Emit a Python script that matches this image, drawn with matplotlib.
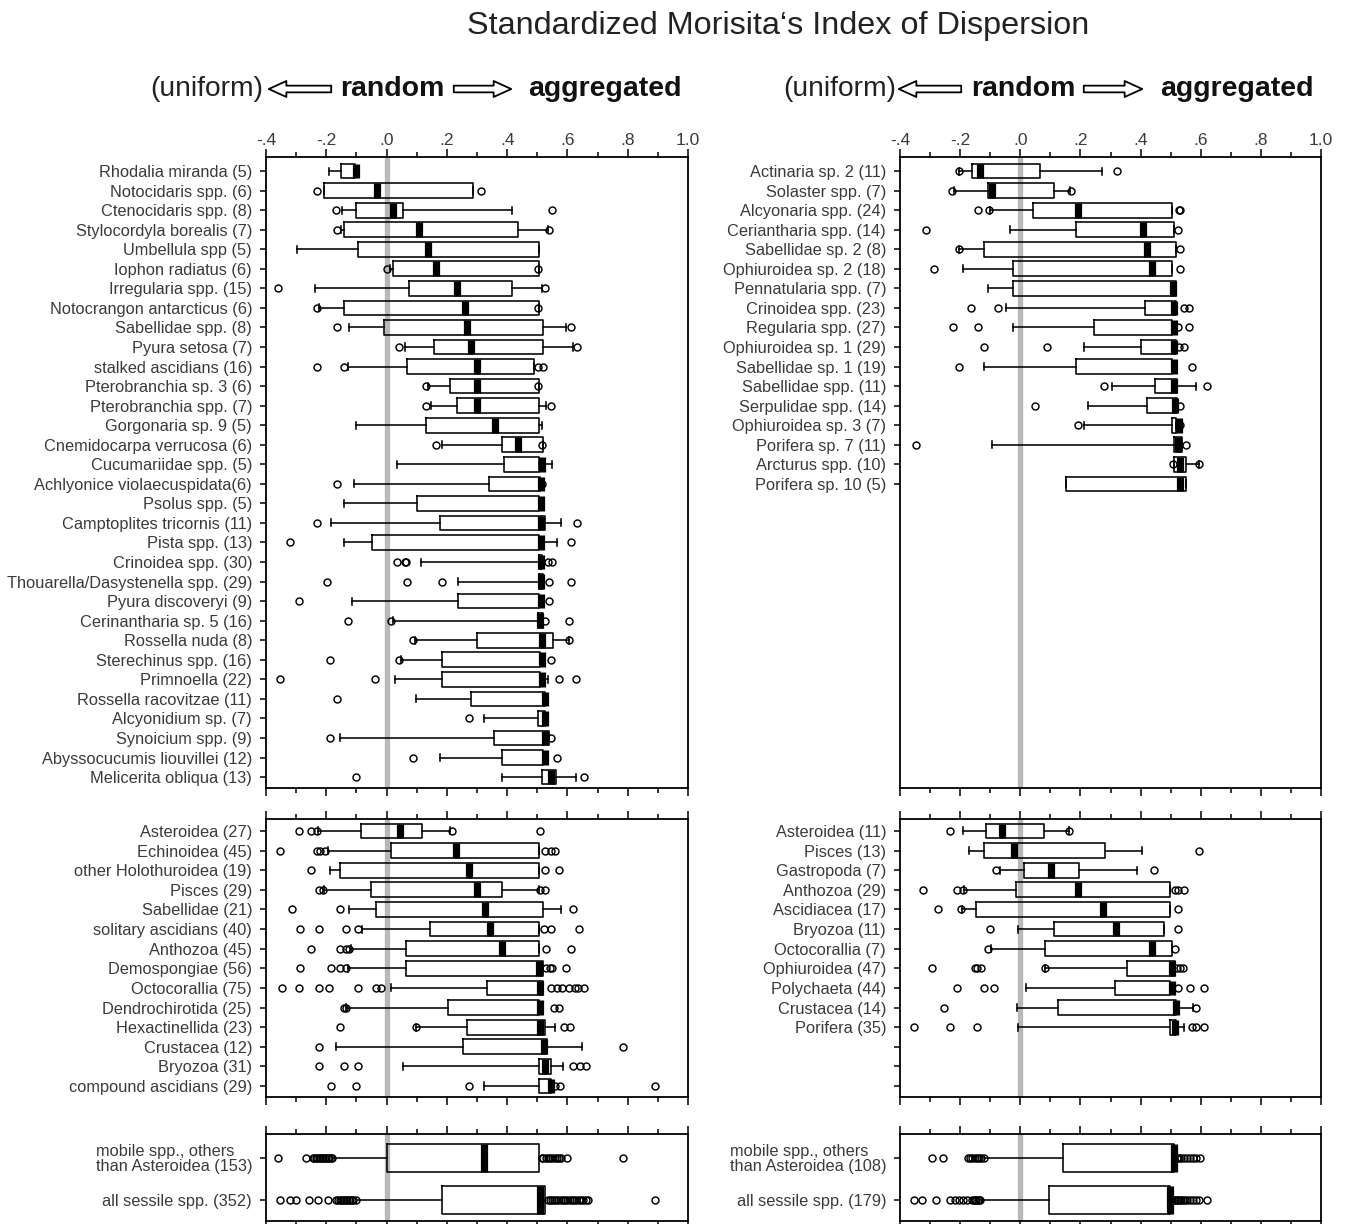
import matplotlib
matplotlib.use('Agg')
import matplotlib.pyplot as plt
from matplotlib.patches import FancyArrowPatch, ArrowStyle
from matplotlib.ticker import MultipleLocator, FixedLocator, FixedFormatter

plt.rcParams['font.family'] = ['Liberation Sans', 'DejaVu Sans']

# ---------------- data ----------------
xtick_values = [-0.4, -0.2, 0.0, 0.2, 0.4, 0.6, 0.8, 1.0]
xtick_labels = ['-.4', '-.2', '.0', '.2', '.4', '.6', '.8', '1.0']

# Left, top panel (species)
LT_names = ['Rhodalia miranda (5)', 'Notocidaris spp. (6)', 'Ctenocidaris spp. (8)',
            'Stylocordyla borealis (7)', 'Umbellula spp (5)', 'Iophon radiatus (6)',
            'Irregularia spp. (15)', 'Notocrangon antarcticus (6)', 'Sabellidae spp. (8)',
            'Pyura setosa (7)', 'stalked ascidians (16)', 'Pterobranchia sp. 3 (6)',
            'Pterobranchia spp. (7)', 'Gorgonaria sp. 9 (5)', 'Cnemidocarpa verrucosa (6)',
            'Cucumariidae spp. (5)', 'Achlyonice violaecuspidata(6)', 'Psolus spp. (5)',
            'Camptoplites tricornis (11)', 'Pista spp. (13)', 'Crinoidea spp. (30)',
            'Thouarella/Dasystenella spp. (29)', 'Pyura discoveryi (9)', 'Cerinantharia sp. 5 (16)',
            'Rossella nuda (8)', 'Sterechinus spp. (16)', 'Primnoella (22)',
            'Rossella racovitzae (11)', 'Alcyonidium sp. (7)', 'Synoicium spp. (9)',
            'Abyssocucumis liouvillei (12)', 'Melicerita obliqua (13)']
LT_q1 = [-0.151, -0.208, -0.101, -0.142, -0.094, 0.021, 0.076, -0.142, -0.007, 0.157,
         0.069, 0.212, 0.233, 0.130, 0.383, 0.389, 0.340, 0.102, 0.178, -0.048,
         0.505, 0.505, 0.238, 0.502, 0.299, 0.184, 0.184, 0.280, 0.503, 0.355, 0.383, 0.517]
LT_med = [-0.100, -0.033, 0.021, 0.109, 0.137, 0.165, 0.233, 0.259, 0.266, 0.280,
          0.299, 0.299, 0.299, 0.361, 0.436, 0.514, 0.512, 0.512, 0.512, 0.512,
          0.512, 0.512, 0.512, 0.510, 0.517, 0.517, 0.517, 0.525, 0.525, 0.525, 0.525, 0.544]
LT_q3 = [-0.106, 0.287, 0.054, 0.437, 0.506, 0.506, 0.417, 0.506, 0.519, 0.519,
         0.489, 0.506, 0.506, 0.506, 0.519, 0.506, 0.508, 0.506, 0.525, 0.506,
         0.515, 0.518, 0.506, 0.518, 0.553, 0.508, 0.508, 0.525, 0.525, 0.539, 0.519, 0.561]
LT_wlo = [-0.190, -0.208, -0.148, -0.150, -0.298, 0.010, -0.236, -0.225, -0.123, 0.062,
          -0.128, 0.139, 0.148, -0.101, 0.184, 0.034, -0.109, -0.142, -0.184, -0.142,
          0.115, 0.238, -0.114, 0.021, 0.094, 0.049, 0.027, 0.096, 0.322, -0.156, 0.178, 0.383]
LT_whi = [-0.106, 0.287, 0.417, 0.535, 0.506, 0.506, 0.515, 0.506, 0.595, 0.619,
          0.489, 0.506, 0.530, 0.517, 0.519, 0.550, 0.508, 0.506, 0.580, 0.566,
          0.515, 0.518, 0.506, 0.518, 0.606, 0.508, 0.536, 0.525, 0.525, 0.539, 0.519, 0.630]
LT_fliers = [
    [], [-0.231, 0.314], [-0.169, 0.550], [-0.164, 0.539], [], [0.0, 0.504],
    [-0.360, 0.525], [-0.231, 0.504], [-0.164, 0.611], [0.041, 0.633],
    [-0.231, -0.142, 0.503, 0.519], [0.130, 0.504], [0.130, 0.545], [],
    [0.165, 0.517], [], [-0.164, 0.514], [], [-0.231, 0.633], [-0.319, 0.611],
    [0.034, 0.060, 0.065, 0.536, 0.550], [-0.197, 0.069, 0.184, 0.539, 0.611],
    [-0.292, 0.539], [-0.128, 0.016, 0.525, 0.606], [0.089, 0.606],
    [-0.189, 0.041, 0.547], [-0.353, -0.040, 0.573, 0.628], [-0.164], [0.272],
    [-0.189, 0.547], [0.089, 0.566], [-0.101, 0.654]]

# Left, middle panel (groups)
LM_names = ['Asteroidea (27)', 'Echinoidea (45)', 'other Holothuroidea (19)', 'Pisces (29)',
            'Sabellidae (21)', 'solitary ascidians (40)', 'Anthozoa (45)', 'Demospongiae (56)',
            'Octocorallia (75)', 'Dendrochirotida (25)', 'Hexactinellida (23)', 'Crustacea (12)',
            'Bryozoa (31)', 'compound ascidians (29)']
LM_q1 = [-0.086, 0.016, -0.156, -0.053, -0.034, 0.145, 0.063, 0.063, 0.334, 0.204, 0.268, 0.254, 0.506, 0.506]
LM_med = [0.043, 0.231, 0.272, 0.300, 0.327, 0.342, 0.382, 0.506, 0.510, 0.510, 0.510, 0.522, 0.525, 0.544]
LM_q3 = [0.118, 0.506, 0.506, 0.384, 0.519, 0.506, 0.506, 0.519, 0.519, 0.506, 0.525, 0.533, 0.545, 0.545]
LM_wlo = [-0.228, -0.195, -0.189, -0.206, -0.123, -0.081, -0.118, -0.129, 0.016, -0.134, 0.098, -0.169, 0.054, 0.322]
LM_whi = [0.209, 0.506, 0.506, 0.506, 0.580, 0.506, 0.506, 0.519, 0.519, 0.506, 0.558, 0.647, 0.584, 0.545]
LM_fliers = [
    [-0.292, -0.252, -0.231, 0.218, 0.510],
    [-0.353, -0.231, -0.220, -0.203, 0.525, 0.544, 0.558],
    [-0.252, 0.525, 0.573],
    [-0.225, -0.212, 0.510, 0.525],
    [-0.313, -0.156, 0.619],
    [-0.286, -0.225, -0.136, -0.095, 0.523, 0.544, 0.639],
    [-0.252, -0.156, -0.136, -0.125, 0.528, 0.611],
    [-0.286, -0.184, -0.156, -0.136, 0.528, 0.542, 0.550, 0.594],
    [-0.348, -0.292, -0.225, -0.192, -0.095, -0.034, -0.018,
     0.544, 0.564, 0.582, 0.606, 0.625, 0.636, 0.654],
    [-0.142, -0.136, 0.555, 0.573],
    [-0.156, 0.096, 0.589, 0.610],
    [-0.225, 0.783],
    [-0.225, -0.142, -0.095, 0.619, 0.641, 0.661],
    [-0.184, -0.101, 0.272, 0.558, 0.575, 0.890]]

# Left, bottom panel (summary)
LB_names = ['mobile spp., others\nthan Asteroidea (153)', 'all sessile spp. (352)']
LB_q1 = [0.000, 0.185]
LB_med = [0.322, 0.510]
LB_q3 = [0.506, 0.525]
LB_wlo = [-0.178, -0.095]
LB_whi = [0.506, 0.525]
LB_fliers = [
    [-0.359, -0.267, -0.245, -0.240, -0.235, -0.230, -0.225, -0.220, -0.215, -0.210,
     -0.205, -0.200, -0.195, -0.190, -0.185, -0.180,
     0.514, 0.520, 0.528, 0.535, 0.542, 0.550, 0.558, 0.565, 0.572, 0.580, 0.599, 0.783],
    [-0.355, -0.322, -0.300, -0.256, -0.228, -0.195, -0.167, -0.160, -0.155, -0.150,
     -0.145, -0.140, -0.135, -0.130, -0.125, -0.120, -0.115, -0.110, -0.101,
     0.536, 0.542, 0.548, 0.555, 0.562, 0.570, 0.578, 0.585, 0.592, 0.600, 0.608,
     0.615, 0.622, 0.630, 0.638, 0.645, 0.652, 0.660, 0.669, 0.890]]

# Right, top panel (species)
RT_names = ['Actinaria sp. 2 (11)', 'Solaster spp. (7)', 'Alcyonaria spp. (24)',
            'Ceriantharia spp. (14)', 'Sabellidae sp. 2 (8)', 'Ophiuroidea sp. 2 (18)',
            'Pennatularia spp. (7)', 'Crinoidea spp. (23)', 'Regularia spp. (27)',
            'Ophiuroidea sp. 1 (29)', 'Sabellidae sp. 1 (19)', 'Sabellidae spp. (11)',
            'Serpulidae spp. (14)', 'Ophiuroidea sp. 3 (7)', 'Porifera sp. 7 (11)',
            'Arcturus spp. (10)', 'Porifera sp. 10 (5)']
RT_q1 = [-0.161, -0.109, 0.042, 0.184, -0.122, -0.025, -0.025, 0.416, 0.246, 0.401,
         0.184, 0.449, 0.421, 0.504, 0.512, 0.510, 0.151]
RT_med = [-0.135, -0.094, 0.192, 0.408, 0.422, 0.437, 0.507, 0.510, 0.510, 0.510,
          0.512, 0.510, 0.516, 0.527, 0.524, 0.532, 0.532]
RT_q3 = [0.064, 0.111, 0.504, 0.512, 0.518, 0.504, 0.518, 0.518, 0.504, 0.518,
         0.504, 0.521, 0.521, 0.519, 0.538, 0.552, 0.552]
RT_wlo = [-0.203, -0.222, -0.100, -0.033, -0.203, -0.192, -0.109, -0.048, -0.025, 0.211,
          -0.122, 0.305, 0.224, 0.211, -0.094, 0.510, 0.151]
RT_whi = [0.272, 0.166, 0.504, 0.512, 0.518, 0.504, 0.518, 0.518, 0.504, 0.518,
          0.504, 0.585, 0.521, 0.519, 0.538, 0.593, 0.552]
RT_fliers = [
    [-0.205, 0.322], [-0.227, 0.169], [-0.139, -0.103, 0.527, 0.532], [-0.314, 0.524],
    [-0.205, 0.530], [-0.286, 0.530], [], [-0.164, -0.075, 0.543, 0.560],
    [-0.225, -0.139, 0.524, 0.560], [-0.122, 0.089, 0.527, 0.543], [-0.205, 0.571],
    [0.279, 0.621], [0.048, 0.532], [0.191, 0.532], [-0.347, 0.552], [0.508, 0.593], []]

# Right, middle panel (groups)
RM_names = ['Asteroidea (11)', 'Pisces (13)', 'Gastropoda (7)', 'Anthozoa (29)',
            'Ascidiacea (17)', 'Bryozoa (11)', 'Octocorallia (7)', 'Ophiuroidea (47)',
            'Polychaeta (44)', 'Crustacea (14)', 'Porifera (35)']
RM_q1 = [-0.115, -0.122, 0.013, -0.013, -0.147, 0.111, 0.081, 0.355, 0.316, 0.124, 0.497]
RM_med = [-0.061, -0.020, 0.102, 0.191, 0.274, 0.319, 0.438, 0.504, 0.504, 0.519, 0.516]
RM_q3 = [0.078, 0.283, 0.194, 0.499, 0.499, 0.479, 0.504, 0.513, 0.499, 0.519, 0.519]
RM_wlo = [-0.192, -0.170, -0.068, -0.188, -0.194, -0.008, -0.097, 0.081, 0.020, -0.011, -0.008]
RM_whi = [0.163, 0.405, 0.388, 0.499, 0.499, 0.479, 0.504, 0.513, 0.499, 0.576, 0.543]
RM_fliers = [
    [-0.233, 0.163], [0.593], [-0.081, 0.443], [-0.322, -0.211, -0.192, 0.516, 0.524, 0.545],
    [-0.272, -0.197, 0.524], [-0.102, 0.524], [-0.109, 0.516],
    [-0.292, -0.152, -0.144, -0.131, 0.081, 0.521, 0.532, 0.541],
    [-0.211, -0.122, -0.089, 0.524, 0.565, 0.612], [-0.253, 0.585],
    [-0.355, -0.233, -0.144, 0.571, 0.585, 0.612]]

# Right, bottom panel (summary)
RB_names = ['mobile spp., others\nthan Asteroidea (108)', 'all sessile spp. (179)']
RB_q1 = [0.142, 0.094]
RB_med = [0.512, 0.499]
RB_q3 = [0.512, 0.499]
RB_wlo = [-0.122, -0.134]
RB_whi = [0.512, 0.499]
RB_fliers = [
    [-0.294, -0.258, -0.175, -0.168, -0.160, -0.152, -0.144, -0.137, -0.129, -0.122,
     0.521, 0.528, 0.535, 0.545, 0.555, 0.565, 0.575, 0.585, 0.599],
    [-0.355, -0.327, -0.279, -0.233, -0.218, -0.204, -0.190, -0.176, -0.160, -0.155,
     -0.150, -0.146, -0.142, -0.138, -0.134,
     0.505, 0.510, 0.515, 0.520, 0.525, 0.530, 0.535, 0.540, 0.548, 0.556, 0.565,
     0.575, 0.585, 0.593, 0.621]]

# ---------------- drawing ----------------
W, H = 1353, 1224
fig = plt.figure(figsize=(W / 100, H / 100), dpi=100)
TXT = '#3a3a3a'


def px_rect(x0, x1, ytop, ybot):
    return [x0 / W, 1 - ybot / H, (x1 - x0) / W, (ybot - ytop) / H]


def make_stats(names, q1, med, q3, wlo, whi, fl):
    return [dict(label=n, q1=a, med=b, q3=c, whislo=d, whishi=e, fliers=f)
            for n, a, b, c, d, e, f in zip(names, q1, med, q3, wlo, whi, fl)]


def panel(rect, stats, ylim, width, labeltop, extra_ticks=0, capw=0.36):
    ax = fig.add_axes(rect)
    ax.axvline(0, color='#b8b8b8', lw=3.8, zorder=0)
    pos = list(range(1, len(stats) + 1))
    ax.bxp(stats, positions=pos, orientation='horizontal', widths=width,
           showfliers=True, capwidths=capw,
           boxprops=dict(color='black', lw=1.15),
           whiskerprops=dict(color='black', lw=1.15, linestyle='-'),
           capprops=dict(color='black', lw=1.15),
           medianprops=dict(color='black', lw=5.2, solid_capstyle='butt'),
           flierprops=dict(marker='o', markerfacecolor='none', markeredgecolor='black',
                           markersize=5.0, markeredgewidth=1.05, linestyle='none'),
           manage_ticks=False)
    ax.set_xlim(-0.4, 1.0)
    ax.set_ylim(*ylim)
    ax.xaxis.set_major_locator(FixedLocator(xtick_values))
    ax.xaxis.set_major_formatter(FixedFormatter(xtick_labels))
    ax.xaxis.set_minor_locator(MultipleLocator(0.1))
    ax.tick_params(axis='x', which='both', top=True, bottom=True, direction='out',
                   labeltop=labeltop, labelbottom=False, width=1.1, colors='black',
                   labelcolor=TXT, labelsize=12.5, pad=0.5)
    ax.tick_params(axis='x', which='major', length=6)
    ax.tick_params(axis='x', which='minor', length=3.5)
    ticks = pos + [len(stats) + i for i in range(1, extra_ticks + 1)]
    labels = [s['label'] for s in stats] + [''] * extra_ticks
    ax.set_yticks(ticks)
    ax.set_yticklabels(labels)
    ax.tick_params(axis='y', which='major', direction='out', length=4.5, width=1.1,
                   labelsize=11.8, labelcolor=TXT, pad=5.5)
    for lbl in ax.get_yticklabels():
        lbl.set_multialignment('left')
        lbl.set_linespacing(0.95)
    for sp in ax.spines.values():
        sp.set_linewidth(1.3)
    return ax


# left column
panel(px_rect(266, 688, 157, 788), make_stats(LT_names, LT_q1, LT_med, LT_q3, LT_wlo, LT_whi, LT_fliers),
      (32.56, 0.28), 0.75, True)
panel(px_rect(266, 688, 819, 1097), make_stats(LM_names, LM_q1, LM_med, LM_q3, LM_wlo, LM_whi, LM_fliers),
      (14.56, 0.39), 0.75, False)
panel(px_rect(266, 688, 1134, 1221), make_stats(LB_names, LB_q1, LB_med, LB_q3, LB_wlo, LB_whi, LB_fliers),
      (2.5, 0.43), 0.65, False, capw=0.0)

# right column
panel(px_rect(900, 1321, 157, 788), make_stats(RT_names, RT_q1, RT_med, RT_q3, RT_wlo, RT_whi, RT_fliers),
      (32.56, 0.28), 0.75, True)
panel(px_rect(900, 1321, 819, 1097), make_stats(RM_names, RM_q1, RM_med, RM_q3, RM_wlo, RM_whi, RM_fliers),
      (14.56, 0.39), 0.75, False, extra_ticks=3)
panel(px_rect(900, 1321, 1134, 1221), make_stats(RB_names, RB_q1, RB_med, RB_q3, RB_wlo, RB_whi, RB_fliers),
      (2.5, 0.43), 0.65, False, capw=0.0)

# titles
fig.text(778 / W, 1 - 26 / H, 'Standardized Morisita\u2018s Index of Dispersion',
         ha='center', va='center', fontsize=23.3, color='#222222')


def header(x_uni, x_a1, x_rand, x_a2, x_agg):
    y = 1 - 89 / H
    fig.text(x_uni / W, y, '(uniform)', ha='left', va='center', fontsize=20.3, color='#222222')
    fig.text(x_rand / W, y, 'random', ha='left', va='center', fontsize=20.5,
             fontweight='bold', color='#111111')
    fig.text(x_agg / W, y, 'aggregated', ha='left', va='center', fontsize=20.5,
             fontweight='bold', color='#111111')
    style = ArrowStyle.Simple(head_length=1.1, head_width=1.0, tail_width=0.42)
    a1 = FancyArrowPatch((x_a1[1] / W, y), (x_a1[0] / W, y), arrowstyle=style,
                         mutation_scale=11.5, transform=fig.transFigure,
                         facecolor='white', edgecolor='black', lw=1.3)
    a2 = FancyArrowPatch((x_a2[0] / W, y), (x_a2[1] / W, y), arrowstyle=style,
                         mutation_scale=11.5, transform=fig.transFigure,
                         facecolor='white', edgecolor='black', lw=1.3)
    fig.add_artist(a1)
    fig.add_artist(a2)


header(150, (266, 334), 340, (451, 514), 528)
header(783, (896, 964), 971, (1081, 1145), 1160)

fig.savefig('out.png', dpi=100)
